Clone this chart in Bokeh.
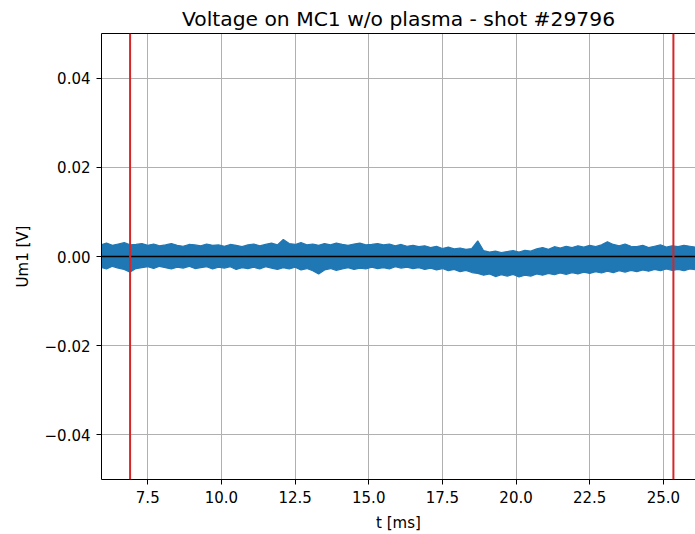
import numpy as np
from bokeh.plotting import figure
from bokeh.models import Range1d, FixedTicker, LinearAxis, Span
from bokeh.embed import file_html
from bokeh.resources import INLINE

# --- data ---
title_text = "Voltage on MC1 w/o plasma - shot #29796"
t_ms = np.round(np.arange(102) * 0.2 + 5.9, 2)  # sampling grid of the envelope
upper_mV = [2.6, 3.0, 2.5, 2.8, 3.1, 2.6, 2.7, 2.9,
            2.5, 2.8, 2.4, 2.6, 2.9, 2.5, 2.3, 2.7, 2.6, 2.4, 2.8, 2.5, 2.6,
            2.3, 2.7, 2.5, 2.2, 2.6, 2.8, 2.4, 2.7, 3.0, 2.6,
            3.8, 2.9, 2.7, 3.1, 2.6,
            2.8, 2.5, 2.9, 2.6, 3.0, 2.7, 2.5, 2.8, 3.0, 2.6, 2.7, 2.9,
            2.6, 2.8, 2.4, 2.7, 2.3, 2.5, 2.2, 2.4,
            2.0, 2.3, 1.8, 2.1, 1.7, 1.9, 1.6, 1.8,
            3.5,
            1.3, 1.0, 1.2, 0.9, 1.1, 1.3, 1.0, 1.4, 1.2,
            1.7, 2.0, 1.6, 2.2, 1.9, 2.3, 2.0, 2.4, 2.1,
            2.5, 2.2, 2.6, 3.3, 2.7, 2.4, 2.8, 2.3,
            2.2, 2.5, 2.0, 2.3, 2.6, 2.1, 2.4, 2.2, 2.5, 2.3, 2.1]
lower_mV = [-2.4, -2.8, -2.2, -2.6, -2.9, -3.5, -2.7, -2.5,
            -2.3, -2.7, -2.2, -2.5, -2.8, -2.4, -2.6, -2.2, -2.7, -2.5, -2.3, -2.8, -2.4,
            -2.6, -2.3, -2.9, -2.5, -2.7, -2.4, -2.8, -2.3, -2.6, -2.9,
            -2.5, -2.8, -2.4, -3.0, -2.7,
            -3.2, -3.9, -3.0, -2.7, -3.1, -2.8, -2.5, -2.9, -2.6, -2.8, -2.4, -2.7,
            -2.5, -2.8, -2.3, -2.6, -2.4, -2.7, -2.5, -2.9,
            -2.6, -3.0, -2.7, -3.2, -2.9, -3.4, -3.1, -3.6,
            -3.8,
            -4.2, -3.9, -4.5, -4.1, -4.4, -4.0, -4.6, -4.2, -4.4,
            -3.9, -4.2, -3.8, -4.1, -3.7, -4.0, -3.6, -3.9, -3.5,
            -3.8, -3.4, -3.7, -3.3, -3.6, -3.2, -3.5, -3.1,
            -3.4, -3.0, -3.3, -2.9, -3.2, -2.8, -3.1, -2.9, -3.2, -2.8, -3.0]
red_lines_ms = [6.90, 25.34]
zero_level = 0.0
x_ticks = [7.5, 10.0, 12.5, 15.0, 17.5, 20.0, 22.5, 25.0]
y_ticks = [-0.04, -0.02, 0.0, 0.02, 0.04]
y_tick_labels = ["\u22120.04", "\u22120.02", "0.00", "0.02", "0.04"]

upper_V = np.array(upper_mV) / 1000.0
lower_V = np.array(lower_mV) / 1000.0

FONT = "DejaVu Sans"

p = figure(width=695, height=534, output_backend="svg", toolbar_location=None,
           x_range=Range1d(5.93, 26.09), y_range=Range1d(-0.05, 0.05),
           min_border_left=101, min_border_right=0, min_border_top=33,
           min_border_bottom=53)
p.outline_line_color = None
p.background_fill_color = "white"
p.border_fill_color = "white"

p.title.text = title_text
p.title.align = "center"
p.title.offset = 8
p.title.text_font = FONT
p.title.text_font_size = "20.3px"
p.title.text_font_style = "normal"
p.title.text_color = "#000000"
p.title.standoff = 6

# grid
for g in (p.xgrid, p.ygrid):
    g.grid_line_color = "#b0b0b0"
    g.grid_line_width = 1
p.xgrid.ticker = FixedTicker(ticks=x_ticks)
p.ygrid.ticker = FixedTicker(ticks=y_ticks)

# axes
xa = p.xaxis[0]
ya = p.yaxis[0]
xa.ticker = FixedTicker(ticks=x_ticks)
ya.ticker = FixedTicker(ticks=y_ticks)
xa.major_label_overrides = {v: f"{v:.1f}" for v in x_ticks}
ya.major_label_overrides = {v: s for v, s in zip(y_ticks, y_tick_labels)}
for ax in (xa, ya):
    ax.axis_line_color = "black"
    ax.axis_line_width = 1
    ax.major_tick_line_color = "black"
    ax.major_tick_out = 5
    ax.major_tick_in = 0
    ax.minor_tick_line_color = None
    ax.major_label_text_font = FONT
    ax.major_label_text_font_size = "15px"
    ax.major_label_text_color = "black"
    ax.axis_label_text_font = FONT
    ax.axis_label_text_font_size = "15px"
    ax.axis_label_text_font_style = "normal"
    ax.axis_label_text_color = "black"
xa.axis_label = "t [ms]"
ya.axis_label = "Um1 [V]"
xa.major_label_standoff = 6
xa.axis_label_standoff = 8
ya.major_label_standoff = 6
ya.axis_label_standoff = 10

top = LinearAxis(ticker=FixedTicker(ticks=[]), major_label_text_font_size="0px",
                 major_tick_line_color=None, minor_tick_line_color=None,
                 axis_line_color="black")
p.add_layout(top, "above")

# signal band
p.varea(x=t_ms, y1=lower_V, y2=upper_V, fill_color="#1f77b4", fill_alpha=1.0)
p.line(x=t_ms, y=upper_V, line_color="#1f77b4", line_width=1.2)
p.line(x=t_ms, y=lower_V, line_color="#1f77b4", line_width=1.2)

# zero line
p.add_layout(Span(location=zero_level, dimension="width", line_color="black", line_width=1.6))

# red marker lines
for xv in red_lines_ms:
    p.add_layout(Span(location=xv, dimension="height", line_color="#d62728", line_width=2))

open("out.html", "w").write(file_html(p, INLINE))
